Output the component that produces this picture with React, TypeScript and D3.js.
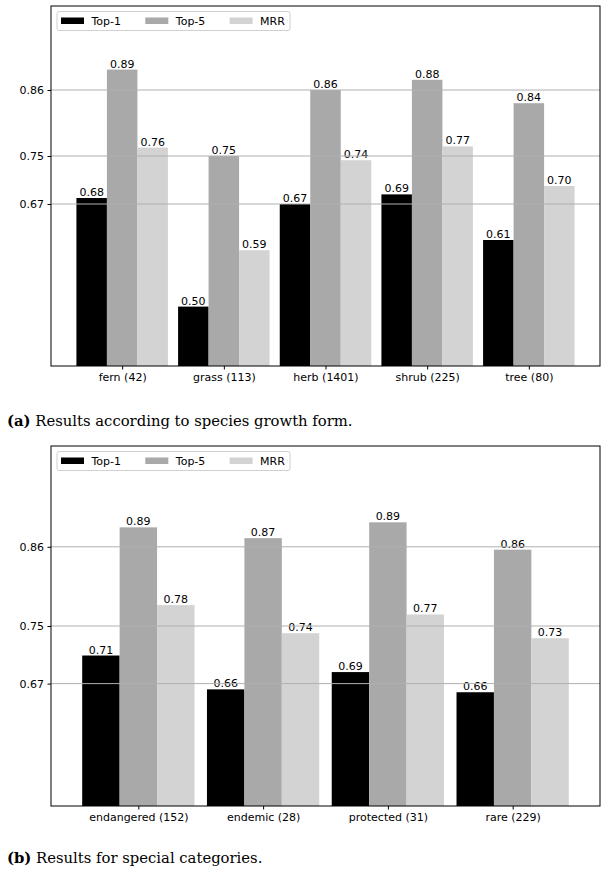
import React, { useEffect, useRef } from 'react';
import * as d3 from 'd3';

// panel (a): growth form
const formCategories = ['fern (42)', 'grass (113)', 'herb (1401)', 'shrub (225)', 'tree (80)'];
const formTop1 = [0.680, 0.499, 0.670, 0.686, 0.610];
const formTop5 = [0.894, 0.750, 0.860, 0.877, 0.838];
const formMRR = [0.764, 0.593, 0.743, 0.766, 0.700];

// panel (b): special categories
const specialCategories = ['endangered (152)', 'endemic (28)', 'protected (31)', 'rare (229)'];
const specialTop1 = [0.709, 0.662, 0.686, 0.658];
const specialTop5 = [0.887, 0.872, 0.894, 0.856];
const specialMRR = [0.779, 0.740, 0.766, 0.733];

const yTicks = [0.67, 0.75, 0.86];
const seriesNames = ['Top-1', 'Top-5', 'MRR'];
const seriesColors = ['#000000', '#a9a9a9', '#d3d3d3'];

const FONT = 'DejaVu Sans, sans-serif';
const FS = '11px';

function drawPanel(svg, opts) {
  const { top, categories, series, yMin, captionTag, captionText, captionY } = opts;
  const left = 51, right = 600, height = 360;
  const n = categories.length;
  const barW = 0.3;

  const x = d3.scaleLinear().domain([-0.7, n - 1 + 0.7]).range([left, right]);
  const y = d3.scaleLinear().domain([yMin, 1.0]).range([top + height, top]);

  const g = svg.append('g');

  // bars
  series.forEach((vals, si) => {
    g.selectAll(null)
      .data(vals)
      .enter()
      .append('rect')
      .attr('x', (d, i) => x(i + (si - 1) * barW - barW / 2))
      .attr('y', d => y(d))
      .attr('width', x(barW) - x(0))
      .attr('height', d => y(yMin) - y(d))
      .attr('fill', seriesColors[si]);

    g.selectAll(null)
      .data(vals)
      .enter()
      .append('text')
      .attr('x', (d, i) => x(i + (si - 1) * barW))
      .attr('y', d => y(d) - 2)
      .attr('text-anchor', 'middle')
      .style('font-family', FONT)
      .style('font-size', FS)
      .text(d => d.toFixed(2));
  });

  // horizontal grid, drawn over the bars
  g.selectAll(null)
    .data(yTicks)
    .enter()
    .append('line')
    .attr('x1', left)
    .attr('x2', right)
    .attr('y1', d => y(d))
    .attr('y2', d => y(d))
    .attr('stroke', '#b0b0b0')
    .attr('stroke-width', 1);

  // y axis
  const yAxis = g.append('g')
    .attr('transform', `translate(${left},0)`)
    .call(d3.axisLeft(y).tickValues(yTicks).tickFormat(d3.format('.2f')).tickSize(3.5).tickPadding(3.5));
  yAxis.select('.domain').remove();
  yAxis.selectAll('text').style('font-family', FONT).style('font-size', FS).attr('fill', '#000');

  // x axis
  const xAxis = g.append('g')
    .attr('transform', `translate(0,${top + height})`)
    .call(d3.axisBottom(x).tickValues(d3.range(n)).tickFormat(i => categories[i]).tickSize(3.5).tickPadding(3.5));
  xAxis.select('.domain').remove();
  xAxis.selectAll('text').style('font-family', FONT).style('font-size', FS).attr('fill', '#000');

  // frame
  g.append('rect')
    .attr('x', left)
    .attr('y', top)
    .attr('width', right - left)
    .attr('height', height)
    .attr('fill', 'none')
    .attr('stroke', '#000')
    .attr('stroke-width', 1);

  // legend
  const lg = g.append('g').attr('transform', `translate(57,${top + 5.5})`);
  lg.append('rect')
    .attr('width', 233)
    .attr('height', 19)
    .attr('rx', 2)
    .attr('fill', '#fff')
    .attr('fill-opacity', 0.8)
    .attr('stroke', '#d0d0d0')
    .attr('stroke-width', 1);
  seriesNames.forEach((name, i) => {
    const ox = 4 + i * 84.3;
    lg.append('rect')
      .attr('x', ox)
      .attr('y', 6)
      .attr('width', 23)
      .attr('height', 6.5)
      .attr('fill', seriesColors[i]);
    lg.append('text')
      .attr('x', ox + 30.5)
      .attr('y', 13.5)
      .style('font-family', FONT)
      .style('font-size', FS)
      .text(name);
  });

  // caption
  const cap = svg.append('text')
    .attr('x', 7)
    .attr('y', captionY)
    .style('font-family', 'DejaVu Serif, serif')
    .style('font-size', '14.8px');
  cap.append('tspan').style('font-weight', 'bold').text(captionTag);
  cap.append('tspan').text(' ' + captionText);
}

export default function App() {
  const ref = useRef(null);

  useEffect(() => {
    const svg = d3.select(ref.current);
    svg.selectAll('*').remove();

    drawPanel(svg, {
      top: 6,
      categories: formCategories,
      series: [formTop1, formTop5, formMRR],
      yMin: 0.4,
      captionTag: '(a)',
      captionText: 'Results according to species growth form.',
      captionY: 426,
    });

    drawPanel(svg, {
      top: 446,
      categories: specialCategories,
      series: [specialTop1, specialTop5, specialMRR],
      yMin: 0.5,
      captionTag: '(b)',
      captionText: 'Results for special categories.',
      captionY: 863,
    });
  }, []);

  return (
    <svg
      ref={ref}
      width={607}
      height={875}
      style={{ position: 'absolute', left: 0, top: 0, background: '#fff' }}
    />
  );
}
